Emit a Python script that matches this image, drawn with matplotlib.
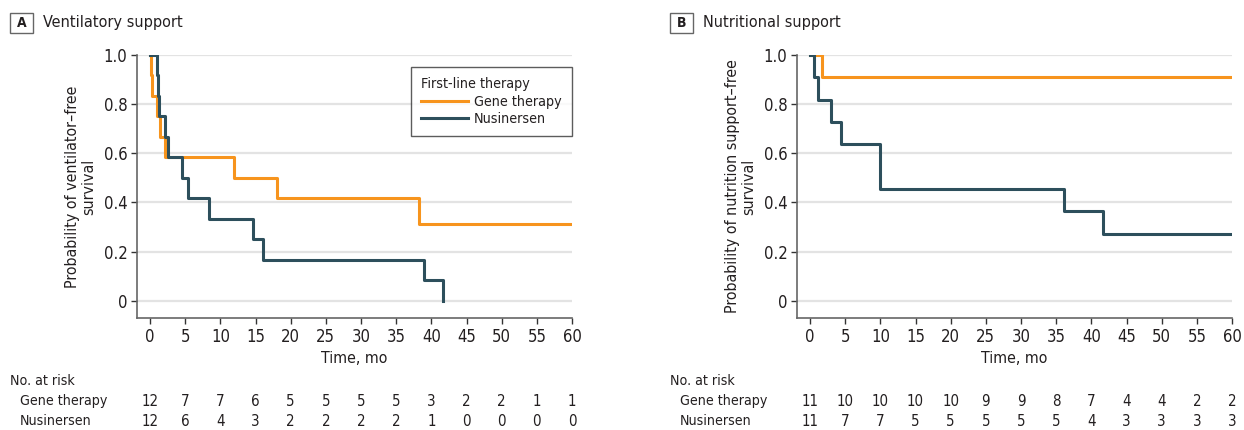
import matplotlib
matplotlib.use("Agg")
import matplotlib.pyplot as plt
import matplotlib.transforms as mtransforms
from matplotlib.patches import Rectangle

# narrow face of DejaVu Sans
plt.rcParams['font.family'] = ['DejaVu Sans']
plt.rcParams['font.stretch'] = 'condensed'

GENE_COLOR = '#F7941D'
NUS_COLOR = '#2D4F5C'
TEXT_COLOR = '#231F20'

# Kaplan-Meier steps: event times (months) and survival after each step
vent_gene_t = [0.15, 0.3, 0.95, 1.4, 2.1, 11.9, 18.1, 38.3]
vent_gene_s = [0.917, 0.833, 0.75, 0.667, 0.583, 0.5, 0.417, 0.3125]
vent_nus_t = [0.95, 1.1, 1.3, 2.2, 2.5, 4.6, 5.4, 8.4, 14.6, 16.0, 38.9, 41.7]
vent_nus_s = [0.917, 0.833, 0.75, 0.667, 0.583, 0.5, 0.417, 0.333, 0.25, 0.167, 0.083, 0.0]

nutr_gene_t = [1.7]
nutr_gene_s = [0.909]
nutr_nus_t = [0.6, 1.1, 3.0, 4.4, 10.0, 36.1, 41.6]
nutr_nus_s = [0.909, 0.818, 0.727, 0.636, 0.455, 0.364, 0.273]

risk_times = [0, 5, 10, 15, 20, 25, 30, 35, 40, 45, 50, 55, 60]
vent_risk_gene = [12, 7, 7, 6, 5, 5, 5, 5, 3, 2, 2, 1, 1]
vent_risk_nus = [12, 6, 4, 3, 2, 2, 2, 2, 1, 0, 0, 0, 0]
nutr_risk_gene = [11, 10, 10, 10, 10, 9, 9, 8, 7, 4, 4, 2, 2]
nutr_risk_nus = [11, 7, 7, 5, 5, 5, 5, 5, 4, 3, 3, 3, 3]

W, H = 1244, 430
fig = plt.figure(figsize=(W / 100, H / 100), dpi=100)


def fx(px):
    return px / W


def fy(px):
    return 1 - px / H


def step_xy(times, surv, end=None):
    x = [0] + list(times)
    y = [1.0] + list(surv)
    if end is not None:
        x.append(end)
        y.append(surv[-1])
    return x, y


def panel(left_px, letter, title, ylabel, gene, nus, risk_gene, risk_nus, legend=False):
    ax = fig.add_axes([fx(left_px), fy(318), 435 / W, 263 / H])
    ax.set_xlim(-1.85, 60)
    ax.set_ylim(-0.07, 1.0)
    for v in [0, 0.2, 0.4, 0.6, 0.8, 1.0]:
        ax.axhline(v, color='#E3E3E3', lw=1.6, zorder=0)
    x, y = step_xy(*gene)
    ax.plot(x, y, drawstyle='steps-post', color=GENE_COLOR, lw=2.2,
            label='Gene therapy')
    x, y = step_xy(*nus)
    ax.plot(x, y, drawstyle='steps-post', color=NUS_COLOR, lw=2.2,
            label='Nusinersen')

    ax.set_xticks(risk_times)
    ax.set_yticks([0, 0.2, 0.4, 0.6, 0.8, 1.0])
    ax.set_yticklabels(['0', '0.2', '0.4', '0.6', '0.8', '1.0'])
    ax.tick_params(labelsize=12, colors='#333333', labelcolor=TEXT_COLOR,
                   length=4, width=1, pad=3)
    for s in ['top', 'right']:
        ax.spines[s].set_visible(False)
    for s in ['left', 'bottom']:
        ax.spines[s].set_color('#666666')
        ax.spines[s].set_linewidth(1.2)
    ax.set_xlabel('Time, mo', fontsize=11.4, color=TEXT_COLOR, labelpad=4)
    ax.set_ylabel(ylabel, fontsize=11.4, color=TEXT_COLOR, linespacing=1.1)
    ax.yaxis.set_label_coords(-0.093, 0.5)

    if legend:
        leg = ax.legend(title='First-line therapy', loc='upper right',
                        bbox_to_anchor=(1.0, 0.954), borderaxespad=0,
                        fontsize=10.3, title_fontsize=10.3, frameon=True,
                        fancybox=False, handlelength=3.3, handletextpad=0.45,
                        borderpad=0.7, labelspacing=0.25, alignment='left')
        leg.get_frame().set_edgecolor('#333333')
        leg.get_frame().set_linewidth(1.0)
        for t in leg.get_texts():
            t.set_color(TEXT_COLOR)
        leg.get_title().set_color(TEXT_COLOR)

    # panel heading: boxed letter and title
    off = left_px - 137
    fig.add_artist(Rectangle((fx(10 + off), fy(33)), 23 / W, 20 / H,
                             transform=fig.transFigure, fc='white',
                             ec='#666666', lw=1))
    fig.text(fx(21.5 + off), fy(23), letter, fontsize=10, fontweight='bold',
             color=TEXT_COLOR, ha='center', va='center')
    fig.text(fx(43 + off), fy(22), title, fontsize=11.6,
             color=TEXT_COLOR, ha='left', va='center')

    # number at risk table
    tr = mtransforms.blended_transform_factory(ax.transData, fig.transFigure)
    fig.text(fx(10 + off), fy(381), 'No. at risk', fontsize=10.2,
             color=TEXT_COLOR, ha='left', va='center')
    fig.text(fx(20 + off), fy(401), 'Gene therapy', fontsize=10.2,
             color=TEXT_COLOR, ha='left', va='center')
    fig.text(fx(20 + off), fy(421), 'Nusinersen', fontsize=10.2,
             color=TEXT_COLOR, ha='left', va='center')
    for t, g, n in zip(risk_times, risk_gene, risk_nus):
        ax.text(t, fy(401), str(g), transform=tr, fontsize=10.8,
                color=TEXT_COLOR, ha='center', va='center')
        ax.text(t, fy(421), str(n), transform=tr, fontsize=10.8,
                color=TEXT_COLOR, ha='center', va='center')
    return ax


panel(137, 'A', 'Ventilatory support',
      'Probability of ventilator\u2013free\nsurvival',
      (vent_gene_t, vent_gene_s, 60), (vent_nus_t, vent_nus_s, None),
      vent_risk_gene, vent_risk_nus, legend=True)
panel(797, 'B', 'Nutritional support',
      'Probability of nutrition support\u2013free\nsurvival',
      (nutr_gene_t, nutr_gene_s, 60), (nutr_nus_t, nutr_nus_s, 60),
      nutr_risk_gene, nutr_risk_nus)

fig.savefig('out.png', dpi=100, facecolor='white')
